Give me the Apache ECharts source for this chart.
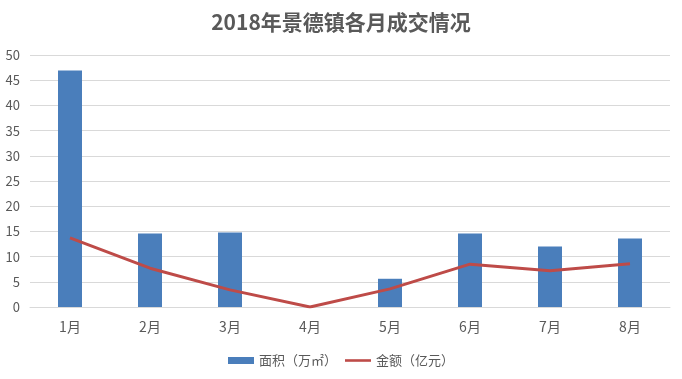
<!DOCTYPE html>
<html><head><meta charset="utf-8">
<script src="https://cdn.jsdelivr.net/npm/echarts@6/dist/echarts.min.js"></script>
<style>html,body{margin:0;padding:0;background:#fff}#c{width:682px;height:379px}</style>
</head><body><div id="c"></div>
<script>
const categories = ['1月','2月','3月','4月','5月','6月','7月','8月'];
const areaValues = [46.9, 14.6, 14.8, 0, 5.6, 14.6, 12.0, 13.6];
const amountValues = [13.7, 7.7, 3.4, 0, 3.6, 8.5, 7.2, 8.6];
const seriesNames = ['面积（万㎡）', '金额（亿元）'];
const chart = echarts.init(document.getElementById('c'));
chart.setOption({
  animation: false,
  backgroundColor: '#fff',
  title: { text: '2018年景德镇各月成交情况', left: 'center', top: 7,
    textStyle: { fontFamily: 'Noto Sans CJK SC', fontSize: 21, fontWeight: 'bold', color: '#595959' } },
  legend: { bottom: 7, itemGap: 8, itemWidth: 26, itemHeight: 7,
    textStyle: { fontFamily: 'Noto Sans CJK SC', fontSize: 13, color: '#595959' },
    data: [{ name: seriesNames[0], icon: 'rect' }, { name: seriesNames[1], icon: 'path://M0,0 L10,0 L10,1 L0,1 Z' }] },
  grid: { left: 30, right: 12, top: 55, bottom: 72 },
  xAxis: { type: 'category', data: categories,
    axisLine: { lineStyle: { color: '#d9d9d9' } }, axisTick: { show: false },
    axisLabel: { color: '#595959', fontSize: 14, margin: 13, fontFamily: 'Noto Sans CJK SC' } },
  yAxis: { type: 'value', min: 0, max: 50, interval: 5,
    axisLine: { show: false }, axisTick: { show: false },
    splitLine: { lineStyle: { color: '#d9d9d9' } },
    axisLabel: { color: '#595959', fontSize: 13, margin: 10, fontFamily: 'Noto Sans CJK SC' } },
  series: [
    { name: seriesNames[0], type: 'bar', data: areaValues, barWidth: 24, itemStyle: { color: '#4a7ebb' } },
    { name: seriesNames[1], type: 'line', data: amountValues, symbol: 'none', lineStyle: { color: '#be4b48', width: 3 }, itemStyle: { color: '#be4b48' } }
  ]
});
</script></body></html>
